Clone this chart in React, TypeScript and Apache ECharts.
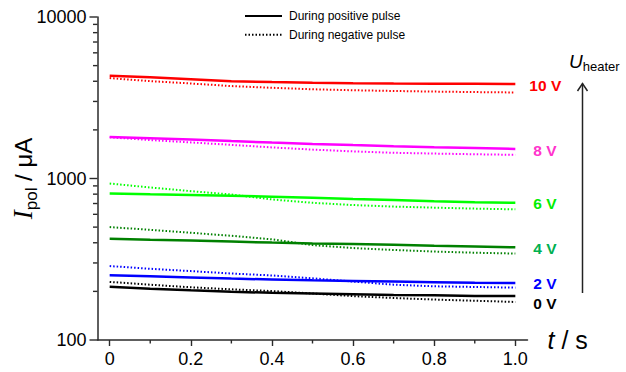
import React, { useEffect, useRef } from 'react';
import * as echarts from 'echarts';

// time axis (s)
const T = [0, 0.1, 0.2, 0.3, 0.4, 0.5, 0.6, 0.7, 0.8, 0.9, 1.0];

// I_pol (µA) during positive pulse (solid) and negative pulse (dotted)
const pos10 = [4323, 4232, 4114, 3999, 3954, 3914, 3886, 3870, 3860, 3855, 3850];
const neg10 = [4184, 4010, 3875, 3735, 3645, 3569, 3519, 3483, 3453, 3429, 3409];
const pos8 = [1809, 1778, 1741, 1704, 1668, 1637, 1610, 1585, 1562, 1543, 1525];
const neg8 = [1799, 1729, 1673, 1615, 1558, 1510, 1472, 1443, 1427, 1413, 1401];
const pos6 = [808, 799, 791, 782, 772, 760, 747, 736, 723, 713, 708];
const neg6 = [931, 880, 835, 796, 742, 707, 685, 670, 660, 651, 644];
const pos4 = [424, 418, 413, 407, 401, 396, 393, 389, 383, 379, 375];
const neg4 = [500, 481, 461, 442, 420, 387, 371, 361, 353, 347, 343];
const pos2 = [252, 248, 244, 240, 237, 234, 232, 230, 228, 226, 225];
const neg2 = [287, 276, 267, 258, 251, 241, 230, 220, 215, 213, 211];
const pos0 = [214, 208, 203, 199, 196, 194, 192, 190, 189, 187, 187];
const neg0 = [229, 220, 212, 206, 201, 194, 187, 182, 178, 175, 172];

const voltLabels = ['10 V', '8 V', '6 V', '4 V', '2 V', '0 V'];
const xTickLabels = [0, 0.2, 0.4, 0.6, 0.8, 1.0];
const xMinorTicks = [0.1, 0.3, 0.5, 0.7, 0.9];
const yMajorTicks = [100, 1000, 10000];
const yMinorTicks = [200, 300, 400, 500, 600, 700, 800, 900, 2000, 3000, 4000, 5000, 6000, 7000, 8000, 9000];
const legendNames = ['During positive pulse', 'During negative pulse'];

const X_MIN = -0.03;
const X_MAX = 1.03;
const Y_MIN = 100;
const Y_MAX = 10000;

const FONT = 'Liberation Sans, Arial, sans-serif';
const AXIS_COLOR = '#2a2a2a';

export default function App() {
  const ref = useRef<HTMLDivElement>(null);
  useEffect(() => {
    document.body.style.margin = '0';
    const chart = echarts.init(ref.current!, null, { renderer: 'svg' });

    const groups = [
      { pos: pos10, neg: neg10, color: '#FF0000', lc: '#FF0000', dx: 0, dy: 2 },
      { pos: pos8, neg: neg8, color: '#FF00FF', lc: '#FF33CC', dx: 4, dy: 2 },
      { pos: pos6, neg: neg6, color: '#00FF00', lc: '#00EE00', dx: 4, dy: 1 },
      { pos: pos4, neg: neg4, color: '#008000', lc: '#00B050', dx: 4, dy: 1 },
      { pos: pos2, neg: neg2, color: '#0000FF', lc: '#0000FF', dx: 4, dy: 0 },
      { pos: pos0, neg: neg0, color: '#000000', lc: '#000000', dx: 4, dy: 7 },
    ];

    const series: any[] = [];
    groups.forEach((g, i) => {
      series.push({
        type: 'line',
        data: T.map((t, k) => [t, g.neg[k]]),
        symbol: 'none',
        lineStyle: { color: g.color, width: 2, type: [1.5, 2] },
        z: 2,
      });
      series.push({
        type: 'line',
        data: T.map((t, k) => [t, g.pos[k]]),
        symbol: 'none',
        lineStyle: { color: g.color, width: 2.5, type: 'solid' },
        z: 3,
        endLabel: {
          show: true,
          formatter: voltLabels[i],
          distance: 14,
          offset: [g.dx, g.dy],
          color: g.lc,
          fontWeight: 'bold',
          fontSize: 15.5,
          fontFamily: FONT,
        },
      });
    });
    series.push({
      name: legendNames[0],
      type: 'line',
      data: [],
      symbol: 'none',
      itemStyle: { color: '#000' },
      lineStyle: { color: '#000', width: 2.5 },
    });
    series.push({
      name: legendNames[1],
      type: 'line',
      data: [],
      symbol: 'none',
      itemStyle: { color: '#000' },
      lineStyle: { color: '#000', width: 2, type: [1.5, 2] },
    });

    // minor x ticks, placed through the axis scales
    series.push({
      type: 'custom',
      clip: false,
      silent: true,
      z: 5,
      data: xMinorTicks.map((t) => [t, Y_MIN]),
      renderItem: (params: any, api: any) => {
        const p = api.coord([api.value(0), api.value(1)]);
        return {
          type: 'line',
          shape: { x1: p[0], y1: p[1], x2: p[0], y2: p[1] + 3.5 },
          style: { stroke: AXIS_COLOR, lineWidth: 1.4 },
        };
      },
    });
    // y ticks (decades long, 2..9 short), placed through the log axis scale
    series.push({
      type: 'custom',
      clip: false,
      silent: true,
      z: 5,
      data: yMajorTicks.map((v) => [X_MIN, v, 1]).concat(yMinorTicks.map((v) => [X_MIN, v, 0])),
      encode: { x: 0, y: 1 },
      renderItem: (params: any, api: any) => {
        const p = api.coord([api.value(0), api.value(1)]);
        const len = api.value(2) === 1 ? 8 : 4.5;
        return {
          type: 'line',
          shape: { x1: p[0] - len, y1: p[1], x2: p[0], y2: p[1] },
          style: { stroke: AXIS_COLOR, lineWidth: 1.4 },
        };
      },
    });

    const option: any = {
      animation: false,
      backgroundColor: '#fff',
      textStyle: { fontFamily: FONT },
      grid: { left: 97.5, right: 98.5, top: 17, bottom: 32, containLabel: false, outerBoundsMode: 'none' },
      legend: {
        data: legendNames,
        orient: 'vertical',
        left: 239,
        top: 5,
        itemWidth: 37,
        itemHeight: 12,
        itemGap: 6.7,
        itemStyle: { opacity: 0 },
        textStyle: { fontSize: 12, color: '#000', fontFamily: FONT, padding: [0, 0, 0, 2] },
        selectedMode: false,
      },
      xAxis: {
        type: 'value',
        min: X_MIN,
        max: X_MAX,
        axisLine: { show: true, onZero: false, lineStyle: { color: AXIS_COLOR, width: 1.5 } },
        axisTick: { show: true, length: 6, customValues: xTickLabels, lineStyle: { color: AXIS_COLOR, width: 1.4 } },
        axisLabel: {
          customValues: xTickLabels,
          formatter: (v: number) => (v === 0 ? '0' : v.toFixed(1)),
          fontSize: 18,
          color: '#000',
          margin: 10,
          fontFamily: FONT,
        },
        splitLine: { show: false },
        name: '{t|t}{n| / s}',
        nameLocation: 'end',
        nameGap: 20,
        nameTextStyle: {
          rich: {
            t: { fontSize: 25, fontStyle: 'italic', fontFamily: FONT, color: '#000' },
            n: { fontSize: 25, fontFamily: FONT, color: '#000' },
          },
        },
      },
      yAxis: {
        type: 'log',
        logBase: 10,
        min: Y_MIN,
        max: Y_MAX,
        axisLine: { show: true, onZero: false, lineStyle: { color: AXIS_COLOR, width: 1.5 } },
        axisTick: { show: false },
        axisLabel: { fontSize: 18, color: '#000', margin: 11, fontFamily: FONT, formatter: (v: number) => String(Math.round(v)) },
        splitLine: { show: false },
        name: '{i|I}{s|pol}{n| / μA}',
        nameLocation: 'middle',
        nameRotate: 90,
        nameGap: 58,
        nameMoveOverlap: false,
        nameTextStyle: {
          rich: {
            i: { fontSize: 27, fontStyle: 'italic', fontFamily: 'Liberation Serif, Times New Roman, serif', color: '#000' },
            s: { fontSize: 17, fontFamily: FONT, color: '#000', verticalAlign: 'bottom', padding: [16, 0, 0, 0] },
            n: { fontSize: 24, fontFamily: FONT, color: '#000' },
          },
        },
      },
      graphic: [
        {
          type: 'line',
          shape: { x1: 582.5, y1: 293, x2: 582.5, y2: 83.5 },
          style: { stroke: '#222', lineWidth: 1.5 },
        },
        {
          type: 'polyline',
          shape: { points: [[577.5, 91], [582.5, 83.5], [587.5, 91]] },
          style: { stroke: '#222', lineWidth: 1.5, fill: 'none' },
        },
        {
          type: 'text',
          left: 569,
          top: 52,
          style: {
            text: '{u|U}{h|heater}',
            rich: {
              u: { fontSize: 19, fontStyle: 'italic', fontFamily: FONT, fill: '#000' },
              h: { fontSize: 13, fontFamily: FONT, fill: '#000', verticalAlign: 'bottom', padding: [9, 0, 0, 0] },
            },
          },
        },
      ],
      series,
    };
    chart.setOption(option);
    return () => chart.dispose();
  }, []);
  return <div ref={ref} style={{ width: 626, height: 372 }} />;
}
